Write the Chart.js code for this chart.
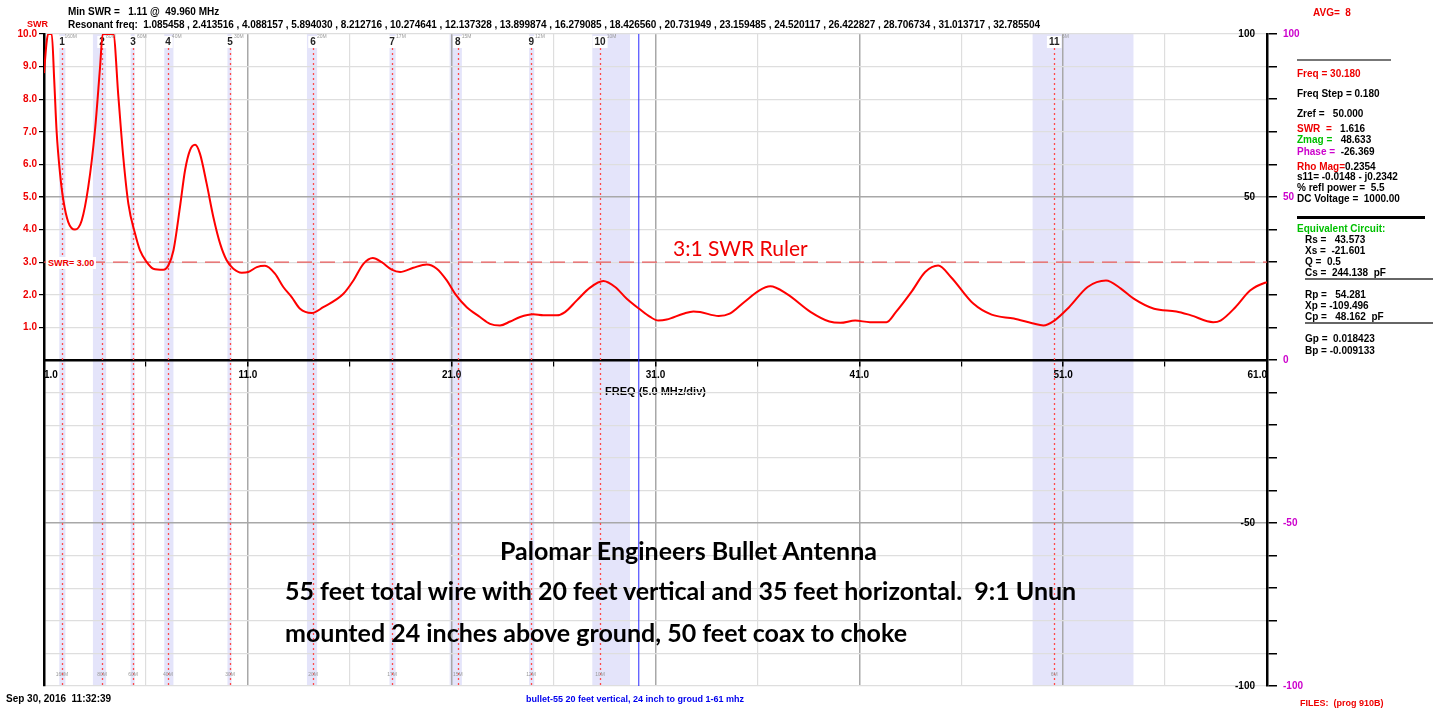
<!DOCTYPE html>
<html>
<head>
<meta charset="utf-8">
<title>Palomar Engineers Bullet Antenna - SWR sweep</title>
<script src="https://cdn.jsdelivr.net/npm/chart.js@4.4.1/dist/chart.umd.min.js"></script>
<style>
  html, body { margin: 0; padding: 0; background: #fff; }
  #wrap { position: relative; width: 1440px; height: 711px; overflow: hidden; }
  #c { position: absolute; left: 0; top: 0; }
  .t { position: absolute; white-space: pre; font-family: "Liberation Sans", Arial, sans-serif;
       font-weight: bold; font-size: 10px; line-height: 12px; color: #000; }
  .red { color: #ee0000; }
  .grn { color: #00c000; }
  .mag { color: #cc00cc; }
  .blu { color: #0000ee; }
  .rule { position: absolute; }
  .cap { position: absolute; white-space: pre; font-family: Lato, "Open Sans", sans-serif;
         font-size: 25px; font-weight: bold; line-height: 28px; color: #000; }
</style>
</head>
<body>
<div id="wrap">
  <canvas id="c" width="1440" height="711"></canvas>

  <!-- header -->
  <div class="t" style="left:68px;top:6px">Min SWR =   1.11 @  49.960 MHz</div>
  <div class="t" style="left:68px;top:19px;letter-spacing:-0.06px">Resonant freq:  1.085458 , 2.413516 , 4.088157 , 5.894030 , 8.212716 , 10.274641 , 12.137328 , 13.899874 , 16.279085 , 18.426560 , 20.731949 , 23.159485 , 24.520117 , 26.422827 , 28.706734 , 31.013717 , 32.785504</div>
  <div class="t red" style="left:1313px;top:7px">AVG=  8</div>
  <div class="t red" style="left:27px;top:18px;font-size:9px">SWR</div>

  <!-- right readout panel -->
  <div class="rule" style="left:1297px;top:59px;width:94px;height:2px;background:#777"></div>
  <div class="t red" style="left:1297px;top:68px">Freq = 30.180</div>
  <div class="t" style="left:1297px;top:88px">Freq Step = 0.180</div>
  <div class="t" style="left:1297px;top:108px">Zref =   50.000</div>
  <div class="t" style="left:1297px;top:123px"><span class="red">SWR  =</span>   1.616</div>
  <div class="t" style="left:1297px;top:134px"><span class="grn">Zmag =</span>   48.633</div>
  <div class="t" style="left:1297px;top:146px"><span class="mag">Phase =</span>  -26.369</div>
  <div class="t" style="left:1297px;top:161px"><span class="red">Rho Mag=</span>0.2354</div>
  <div class="t" style="left:1297px;top:171px">s11= -0.0148 - j0.2342</div>
  <div class="t" style="left:1297px;top:182px">% refl power =  5.5</div>
  <div class="t" style="left:1297px;top:193px">DC Voltage =  1000.00</div>
  <div class="rule" style="left:1297px;top:216px;width:128px;height:3px;background:#000"></div>
  <div class="t grn" style="left:1297px;top:223px">Equivalent Circuit:</div>
  <div class="t" style="left:1305px;top:234px">Rs =   43.573</div>
  <div class="t" style="left:1305px;top:245px">Xs =  -21.601</div>
  <div class="t" style="left:1305px;top:256px">Q =  0.5</div>
  <div class="t" style="left:1305px;top:267px">Cs =  244.138  pF</div>
  <div class="rule" style="left:1305px;top:278px;width:128px;height:2px;background:#666"></div>
  <div class="t" style="left:1305px;top:289px">Rp =   54.281</div>
  <div class="t" style="left:1305px;top:300px">Xp = -109.496</div>
  <div class="t" style="left:1305px;top:311px">Cp =   48.162  pF</div>
  <div class="rule" style="left:1305px;top:322px;width:128px;height:2px;background:#666"></div>
  <div class="t" style="left:1305px;top:333px">Gp =  0.018423</div>
  <div class="t" style="left:1305px;top:345px">Bp = -0.009133</div>

  <!-- in-plot annotations -->
  <div class="t red" style="left:46px;top:257px;font-size:9px;background:#fff;padding:0 2px">SWR= 3.00</div>
  <div class="cap" style="left:673px;top:234px;font-size:21px;font-weight:normal;color:#ee0000">3:1 SWR Ruler</div>
  <div class="cap" style="left:500px;top:536px">Palomar Engineers Bullet Antenna</div>
  <div class="cap" style="left:285px;top:576px">55 feet total wire with 20 feet vertical and 35 feet horizontal.  9:1 Unun</div>
  <div class="cap" style="left:285px;top:618px">mounted 24 inches above ground, 50 feet coax to choke</div>

  <!-- footer -->
  <div class="t" style="left:6px;top:693px">Sep 30, 2016  11:32:39</div>
  <div class="t blu" style="left:526px;top:693px;font-size:9px">bullet-55 20 feet vertical, 24 inch to groud 1-61 mhz</div>
  <div class="t red" style="left:1300px;top:697px;font-size:9px">FILES:  (prog 910B)</div>
</div>

<script>
  // sweep samples (MHz, SWR); SWR is clipped at 10 by the display
  var freqMHz = [
    1.0, 1.12, 1.2, 1.38, 1.5, 1.62, 1.79, 1.95, 2.19, 2.52, 2.85, 3.17, 3.5, 3.75, 3.88,
    4.4, 4.65, 4.89, 5.14, 5.47, 5.71, 6.04, 6.36, 6.85, 7.1, 7.35, 7.67, 7.92, 8.16, 8.41,
    8.65, 8.98, 9.31, 9.64, 9.96, 10.29, 10.7, 11.02, 11.44, 11.84, 12.33, 12.74, 13.15, 13.56,
    14.13, 14.7, 15.69, 16.18, 16.67, 17.13, 17.57, 18.06, 18.47, 19.12, 19.78, 20.27, 20.76,
    21.17, 21.74, 22.39, 22.88, 23.37, 23.87, 24.36, 25.0, 25.5, 26.16, 26.56, 27.14, 27.79,
    28.44, 29.02, 29.59, 30.2, 30.74, 31.14, 31.55, 32.37, 32.86, 33.19, 34.1, 34.64, 35.36,
    36.08, 36.63, 37.44, 38.62, 39.53, 40.07, 40.8, 41.52, 42.33, 42.79, 43.6, 44.23, 44.87,
    45.5, 46.59, 47.49, 48.58, 49.48, 50.03, 50.57, 51.29, 52.2, 53.1, 53.83, 54.46, 55.46,
    56.55, 57.27, 58.36, 58.72, 59.45, 60.17, 60.9, 61.0
  ];
  var swrValues = [
    8.8, 9.7, 10, 10, 8.6, 7.0, 5.7, 4.9, 4.23, 4.0, 4.28, 5.3, 7.04, 8.98, 10,
    10, 8.07, 6.22, 4.79, 3.87, 3.36, 3.0, 2.8, 2.77, 2.9, 3.36, 4.69, 5.82, 6.43, 6.6,
    6.33, 5.41, 4.38, 3.57, 3.06, 2.8, 2.68, 2.7, 2.85, 2.89, 2.65, 2.24, 1.93, 1.57,
    1.44, 1.62, 2.03, 2.44, 2.95, 3.13, 3.0, 2.77, 2.7, 2.83, 2.93, 2.8, 2.44,
    2.03, 1.62, 1.32, 1.11, 1.06, 1.18, 1.32, 1.4, 1.37, 1.37, 1.47, 1.83, 2.22,
    2.42, 2.24, 1.88, 1.57, 1.32, 1.21, 1.24, 1.42, 1.49, 1.47, 1.35, 1.42, 1.78,
    2.13, 2.26, 2.03, 1.47, 1.18, 1.14, 1.21, 1.16, 1.16, 1.47, 2.13, 2.7, 2.9,
    2.54, 1.73, 1.39, 1.27, 1.13, 1.06, 1.21, 1.62, 2.24, 2.44, 2.19, 1.88, 1.57,
    1.49, 1.37, 1.16, 1.21, 1.62, 2.13, 2.37, 2.38
  ];

  var xTickValues = [1, 6, 11, 16, 21, 26, 31, 36, 41, 46, 51, 56, 61];
  var rulerSwr = 3.0;
  var cursorMHz = 30.18;

  // ham band overlays: shaded extent, marker line, number and name
  var bandLow    = [1.75, 3.4, 5.25, 6.9, 10.0, 13.9, 17.95, 20.9, 24.8, 27.9, 49.5];
  var bandHigh   = [2.05, 4.05, 5.45, 7.35, 10.2, 14.4, 18.25, 21.5, 25.05, 29.75, 54.45];
  var bandMarker = [1.88, 3.85, 5.37, 7.08, 10.13, 14.2, 18.08, 21.3, 24.9, 28.28, 50.56];
  var bandName   = ['160M', '80M', '60M', '40M', '30M', '20M', '17M', '15M', '12M', '10M', '6M'];

  var FONT = '"Liberation Sans", Arial, sans-serif';

  var bandPlugin = {
    id: 'bands',
    beforeDraw: function (chart) {
      var ctx = chart.ctx, area = chart.chartArea, xs = chart.scales.x;
      ctx.save();
      ctx.fillStyle = '#e4e4fa';
      for (var i = 0; i < bandLow.length; i++) {
        var a = xs.getPixelForValue(bandLow[i]), b = xs.getPixelForValue(bandHigh[i]);
        ctx.fillRect(a, area.top, b - a, area.bottom - area.top);
      }
      ctx.restore();
    },
    beforeDatasetsDraw: function (chart) {
      var ctx = chart.ctx, area = chart.chartArea, xs = chart.scales.x;
      ctx.save();
      ctx.strokeStyle = '#ff4a4a';
      ctx.lineWidth = 1.3;
      ctx.setLineDash([2, 3]);
      for (var i = 0; i < bandMarker.length; i++) {
        var px = Math.round(xs.getPixelForValue(bandMarker[i])) + 0.5;
        ctx.beginPath();
        ctx.moveTo(px, area.top + 14);
        ctx.lineTo(px, area.bottom);
        ctx.stroke();
      }
      ctx.setLineDash([]);
      ctx.textAlign = 'center';
      ctx.textBaseline = 'middle';
      for (var j = 0; j < bandMarker.length; j++) {
        var mx = xs.getPixelForValue(bandMarker[j]);
        ctx.font = 'bold 10px ' + FONT;
        var w = ctx.measureText(String(j + 1)).width + 4;
        ctx.fillStyle = '#fff';
        ctx.fillRect(mx - w / 2, area.top + 2, w, 12);
        ctx.fillStyle = '#222';
        ctx.fillText(String(j + 1), mx, area.top + 8);
        ctx.font = '5px ' + FONT;
        ctx.fillStyle = '#999';
        ctx.fillText(bandName[j], mx + w / 2 + 4, area.top + 3);
        ctx.fillText(bandName[j], mx, area.bottom - 11);
      }
      ctx.restore();
    }
  };

  var points = freqMHz.map(function (f, i) { return { x: f, y: swrValues[i] }; });

  new Chart(document.getElementById('c'), {
    type: 'line',
    data: {
      datasets: [
        {
          data: points,
          borderColor: '#ff0000',
          borderWidth: 2,
          pointRadius: 0,
          cubicInterpolationMode: 'monotone',
          order: 0
        },
        {
          data: [{ x: 1, y: rulerSwr }, { x: 61, y: rulerSwr }],
          borderColor: '#e85a5a',
          borderWidth: 1.3,
          borderDash: [15, 8],
          pointRadius: 0,
          order: 2
        },
        {
          data: [{ x: cursorMHz, y: -10 }, { x: cursorMHz, y: 10 }],
          borderColor: '#2a2aff',
          borderWidth: 1,
          pointRadius: 0,
          order: 1
        }
      ]
    },
    options: {
      responsive: false,
      animation: false,
      layout: { padding: { left: 0, right: 0, top: 34, bottom: 25 } },
      plugins: { legend: { display: false }, tooltip: { enabled: false } },
      scales: {
        x: {
          type: 'linear',
          min: 1, max: 61,
          position: { y: 0 },
          afterBuildTicks: function (s) {
            s.ticks = xTickValues.map(function (v) { return { value: v }; });
          },
          ticks: {
            autoSkip: false, maxRotation: 0, align: 'inner', color: '#000', padding: 4,
            font: { family: FONT, size: 10, weight: 'bold' },
            callback: function (v) { return (v - 1) % 10 === 0 ? v.toFixed(1) : ''; }
          },
          grid: {
            color: function (c) { return (c.tick && (c.tick.value - 1) % 10 === 0) ? '#a8a8a8' : '#dedede'; },
            lineWidth: function (c) { return (c.tick && (c.tick.value - 1) % 10 === 0) ? 1.5 : 1.2; },
            tickLength: 5, tickColor: '#000'
          },
          border: { color: '#000', width: 2.5 },
          title: {
            display: true, text: 'FREQ (5.0 MHz/div)', color: '#000',
            font: { family: FONT, size: 11, weight: 'bold' }, padding: { top: 0, bottom: 0 }
          }
        },
        y: {
          position: 'left',
          min: -10, max: 10,
          ticks: {
            stepSize: 1, color: '#ee0000', padding: 2,
            font: { family: FONT, size: 10, weight: 'bold' },
            callback: function (v) { return v > 0 ? v.toFixed(1) : ''; }
          },
          grid: {
            color: function (c) {
              var v = c.tick ? c.tick.value : 1;
              if (v === 0) return 'rgba(0,0,0,0)';
              return Math.abs(v) === 5 ? '#a8a8a8' : '#dedede';
            },
            lineWidth: function (c) { return (c.tick && Math.abs(c.tick.value) === 5) ? 1.5 : 1.2; },
            tickLength: 5,
            tickColor: function (c) { return (c.tick && c.tick.value > 0) ? '#000' : 'rgba(0,0,0,0)'; }
          },
          border: { color: '#000', width: 2.5 },
          afterFit: function (s) { s.width = 44; }
        },
        y2: {
          position: 'right',
          min: -100, max: 100,
          ticks: {
            stepSize: 10, mirror: true, padding: -12, color: '#000',
            font: { family: FONT, size: 10, weight: 'bold' },
            callback: function (v) { return (Math.abs(v) === 100 || Math.abs(v) === 50) ? String(v) : ''; }
          },
          grid: { drawOnChartArea: false, tickLength: 10, tickColor: '#000', lineWidth: 1.5 },
          border: { color: '#000', width: 2.5 },
          afterFit: function (s) { s.width = 10; }
        },
        y3: {
          position: 'right',
          min: -100, max: 100,
          ticks: {
            stepSize: 50, padding: 6, color: '#cc00cc',
            font: { family: FONT, size: 10, weight: 'bold' }
          },
          grid: { display: false, drawTicks: false },
          border: { display: false },
          afterFit: function (s) { s.width = 163; }
        }
      }
    },
    plugins: [bandPlugin]
  });
</script>
</body>
</html>
